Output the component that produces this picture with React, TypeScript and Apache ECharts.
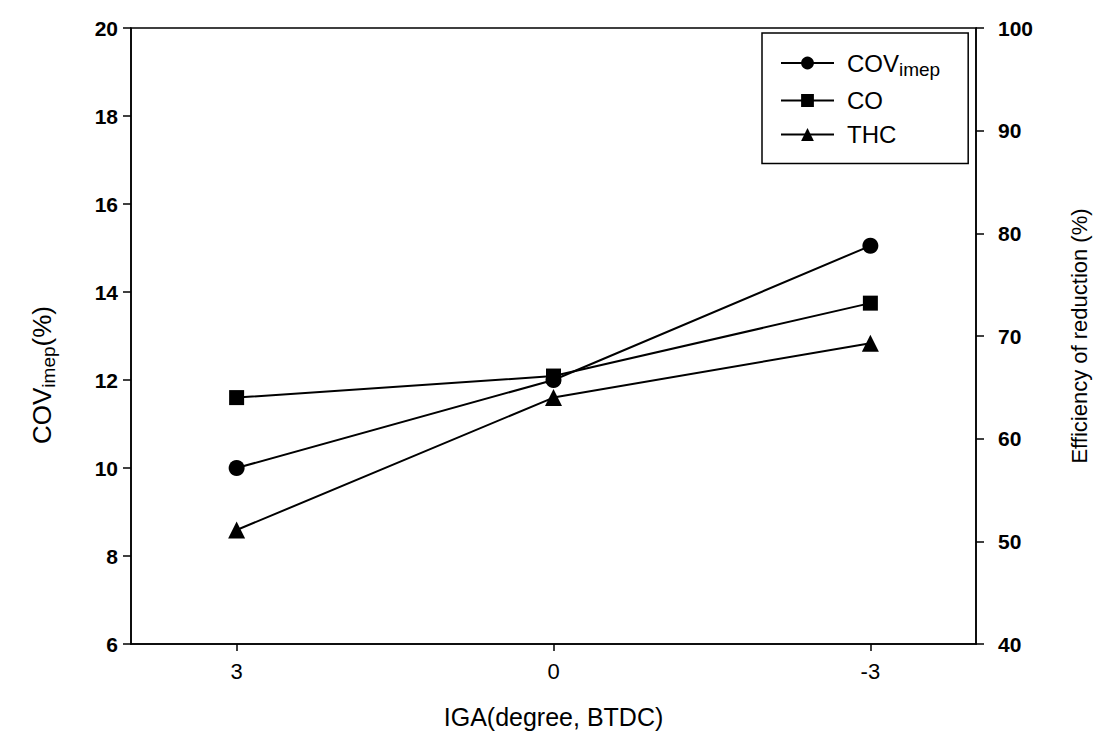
import React, { useEffect, useRef } from "react";
import * as echarts from "echarts";

// Ignition angle (degree, BTDC)
const igaValues = [3, 0, -3];
const igaTicks = [3, 0, -3];

// Left axis: COV of IMEP (%)
const covImep = [10.0, 12.0, 15.05];
// Right axis: efficiency of reduction (%)
const coReduction = [64.0, 66.1, 73.2];
const thcReduction = [51.1, 64.0, 69.3];

const FONT = "Liberation Sans, Arial, Helvetica, sans-serif";

const toPairs = (ys: number[]) => igaValues.map((x, i) => [x, ys[i]]);

export default function App() {
  const ref = useRef<HTMLDivElement>(null);

  useEffect(() => {
    if (!ref.current) return;
    const chart = echarts.init(ref.current, undefined, { renderer: "svg" });

    const lineStyle = { color: "#000", width: 2 };
    const itemStyle = { color: "#000" };
    const axisLineStyle = { color: "#000", width: 1.5 };

    chart.setOption({
      animation: false,
      backgroundColor: "#fff",
      grid: {
        left: 131,
        right: 135,
        top: 28,
        bottom: 100,
        show: true,
        borderColor: "#000",
        borderWidth: 1.5,
        backgroundColor: "transparent",
      },
      legend: {
        orient: "vertical",
        left: 762,
        top: 33,
        padding: [18, 28, 17, 18],
        itemWidth: 53,
        itemHeight: 16,
        itemGap: 10,
        borderColor: "#000",
        borderWidth: 1.5,
        backgroundColor: "#fff",
        textStyle: {
          fontFamily: FONT,
          fontSize: 24,
          color: "#000",
          padding: [0, 0, 0, 8],
          rich: {
            sub: { fontFamily: FONT, fontSize: 19, color: "#000", verticalAlign: "bottom", padding: [12, 0, 0, 0] },
          },
        },
        formatter: (name: string) => (name === "COV_imep" ? "COV{sub|imep}" : name),
        data: ["COV_imep", "CO", "THC"],
      },
      xAxis: {
        type: "value",
        min: -4,
        max: 4,
        inverse: true,
        name: "IGA(degree, BTDC)",
        nameLocation: "middle",
        nameGap: 60,
        nameTextStyle: { fontFamily: FONT, fontSize: 25, color: "#000" },
        axisLine: { onZero: false, lineStyle: axisLineStyle },
        axisTick: { customValues: igaTicks, length: 7, lineStyle: axisLineStyle },
        axisLabel: {
          customValues: igaTicks,
          margin: 16,
          fontFamily: FONT,
          fontSize: 22,
          color: "#000",
        },
        splitLine: { show: false },
      },
      yAxis: [
        {
          type: "value",
          min: 6,
          max: 20,
          interval: 2,
          position: "left",
          axisLine: { show: true, onZero: false, lineStyle: axisLineStyle },
          axisTick: { show: true, length: 8, lineStyle: axisLineStyle },
          axisLabel: {
            margin: 13,
            fontFamily: FONT,
            fontSize: 21,
            fontWeight: "bold",
            color: "#000",
          },
          splitLine: { show: false },
        },
        {
          type: "value",
          min: 40,
          max: 100,
          interval: 10,
          position: "right",
          name: "Efficiency of reduction (%)",
          nameLocation: "middle",
          nameGap: 92,
          nameRotate: 90,
          nameTextStyle: { fontFamily: FONT, fontSize: 22, color: "#000" },
          axisLine: { show: true, onZero: false, lineStyle: axisLineStyle },
          axisTick: { show: true, length: 8, lineStyle: axisLineStyle },
          axisLabel: {
            margin: 22,
            fontFamily: FONT,
            fontSize: 21,
            fontWeight: "bold",
            color: "#000",
          },
          splitLine: { show: false },
        },
      ],
      graphic: [
        {
          type: "text",
          x: 42,
          y: 375,
          rotation: Math.PI / 2,
          style: {
            text: "COV{sub|imep}(%)",
            fontFamily: FONT,
            fontSize: 26,
            fill: "#000",
            align: "center",
            verticalAlign: "middle",
            rich: {
              sub: { fontFamily: FONT, fontSize: 19, fill: "#000", verticalAlign: "bottom", padding: [13, 0, 0, 0] },
            },
          },
        },
      ],
      series: [
        {
          name: "COV_imep",
          type: "line",
          yAxisIndex: 0,
          data: toPairs(covImep),
          symbol: "circle",
          symbolSize: 16,
          lineStyle,
          itemStyle,
          z: 3,
        },
        {
          name: "CO",
          type: "line",
          yAxisIndex: 1,
          data: toPairs(coReduction),
          symbol: "rect",
          symbolSize: 15,
          lineStyle,
          itemStyle,
          z: 4,
        },
        {
          name: "THC",
          type: "line",
          yAxisIndex: 1,
          data: toPairs(thcReduction),
          symbol: "triangle",
          symbolSize: 17,
          lineStyle,
          itemStyle,
          z: 2,
        },
      ],
    });

    return () => chart.dispose();
  }, []);

  return <div ref={ref} style={{ width: 1111, height: 744, margin: -8 }} />;
}
